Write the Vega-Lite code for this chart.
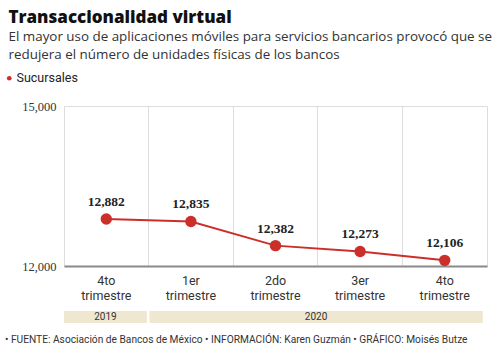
{
  "$schema": "https://vega.github.io/schema/vega-lite/v6.json",
  "background": "white",
  "padding": {"left": 2, "top": 9, "right": 5, "bottom": 5},
  "title": {
    "text": "Transaccionalidad virtual",
    "subtitle": ["El mayor uso de aplicaciones móviles para servicios bancarios provocó que se", "redujera el número de unidades físicas de los bancos"],
    "anchor": "start",
    "frame": "bounds",
    "dx": 6,
    "font": "Open Sans",
    "fontSize": 17,
    "fontWeight": 800,
    "color": "#111",
    "subtitleFont": "Open Sans",
    "subtitleFontSize": 13.4,
    "subtitleColor": "#333",
    "subtitleLineHeight": 17.5,
    "subtitlePadding": 3,
    "offset": 10
  },
  "config": {
    "font": "Liberation Sans Narrow, Roboto, sans-serif"
  },
  "spacing": 9,
  "vconcat": [
    {
      "width": 423,
      "height": 160,
      "view": {"stroke": "#dddddd", "strokeWidth": 1},
      "data": {
        "values": [
          {"periodo": "4to trimestre 2019", "valor": 12882, "serie": "Sucursales"},
          {"periodo": "1er trimestre 2020", "valor": 12835, "serie": "Sucursales"},
          {"periodo": "2do trimestre 2020", "valor": 12382, "serie": "Sucursales"},
          {"periodo": "3er trimestre 2020", "valor": 12273, "serie": "Sucursales"},
          {"periodo": "4to trimestre 2020", "valor": 12106, "serie": "Sucursales"}
        ]
      },
      "encoding": {
        "x": {
          "field": "periodo", "type": "nominal", "sort": null,
          "scale": {"type": "band", "paddingInner": 0, "paddingOuter": 0},
          "axis": {
            "title": null, "labelAngle": 0, "ticks": false,
            "grid": true, "bandPosition": 0, "gridColor": "#dddddd", "gridWidth": 1,
            "domainColor": "#8a8a8a", "domainWidth": 2,
            "labelExpr": "[split(datum.value, ' ')[0], split(datum.value, ' ')[1]]",
            "labelFont": "Liberation Sans Narrow, Roboto, sans-serif",
            "labelFontSize": 12.5, "labelColor": "#333", "labelLineHeight": 15,
            "labelPadding": 8
          }
        },
        "y": {
          "field": "valor", "type": "quantitative",
          "scale": {"domain": [12000, 15000], "nice": false, "zero": false},
          "axis": {
            "title": null, "values": [12000, 15000],
            "labelExpr": "format(datum.value, ',')",
            "grid": false, "ticks": false, "domain": false,
            "labelFont": "Liberation Serif, serif", "labelFontSize": 12.5,
            "labelColor": "#333", "labelPadding": 8,
            "minExtent": 61, "maxExtent": 61
          }
        }
      },
      "layer": [
        {
          "mark": {"type": "line", "strokeWidth": 2, "color": "#cc2f2a"}
        },
        {
          "mark": {"type": "point", "filled": true, "size": 130, "opacity": 1},
          "encoding": {
            "color": {
              "field": "serie", "type": "nominal",
              "scale": {"range": ["#cc2f2a"]},
              "legend": {
                "title": null, "orient": "none", "legendX": -61, "legendY": -34,
                "symbolType": "circle", "symbolSize": 22, "symbolOpacity": 1,
                "labelFont": "Liberation Sans Narrow, Roboto, sans-serif",
                "labelFontSize": 12.5, "labelColor": "#222", "labelOffset": 1
              }
            }
          }
        },
        {
          "mark": {"type": "text", "dy": -17, "font": "Liberation Serif, serif", "fontSize": 13.5, "fontWeight": "bold", "color": "#222", "baseline": "middle"},
          "encoding": {"text": {"field": "valor", "type": "quantitative", "format": ","}}
        }
      ]
    },
    {
      "width": 423,
      "height": 12,
      "view": {"stroke": null},
      "title": {
        "text": "• FUENTE: Asociación de Bancos de México • INFORMACIÓN: Karen Guzmán • GRÁFICO: Moisés Butze",
        "orient": "bottom", "anchor": "start", "frame": "group", "dx": -59, "offset": 12,
        "font": "Liberation Sans Narrow, Roboto, sans-serif", "fontSize": 10.2, "fontWeight": "normal", "color": "#333"
      },
      "data": {
        "values": [
          {"year": "2019", "x0": 0, "x1": 0.98, "xm": 0.49},
          {"year": "2020", "x0": 1.01, "x1": 4.95, "xm": 2.98}
        ]
      },
      "layer": [
        {
          "mark": {"type": "rect", "color": "#efe7cf"},
          "encoding": {
            "x": {"field": "x0", "type": "quantitative", "scale": {"domain": [0, 5], "nice": false, "zero": false}, "axis": null},
            "x2": {"field": "x1"}
          }
        },
        {
          "mark": {"type": "text", "fontSize": 10, "color": "#333", "font": "Liberation Sans Narrow, Roboto, sans-serif"},
          "encoding": {
            "x": {"field": "xm", "type": "quantitative", "scale": {"domain": [0, 5], "nice": false, "zero": false}, "axis": null},
            "text": {"field": "year"}
          }
        }
      ]
    }
  ]
}
